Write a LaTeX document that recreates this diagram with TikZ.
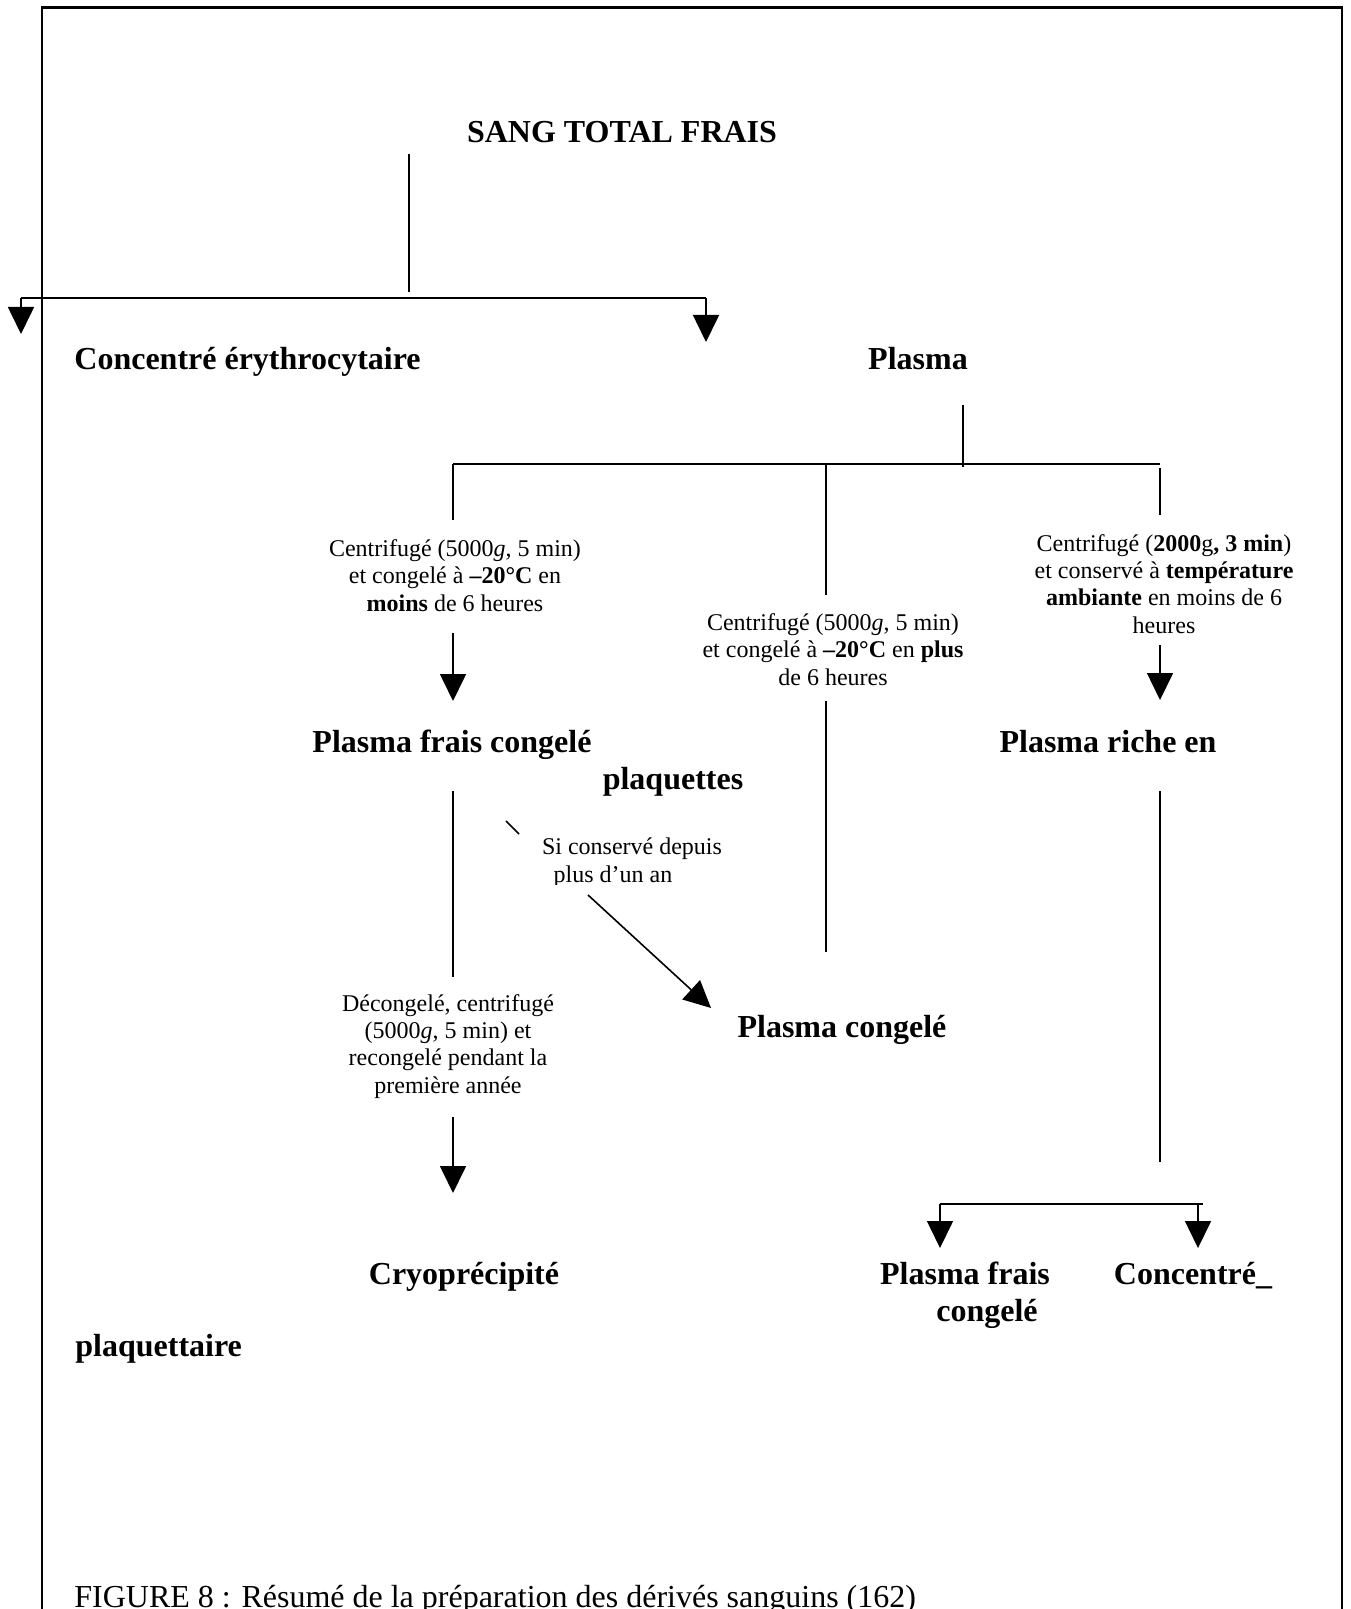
\documentclass[tikz,border=0pt]{standalone}
\usepackage{fontspec}
\setmainfont{Liberation Serif}
\usetikzlibrary{arrows.meta}

\begin{document}
\begin{tikzpicture}[x=0.5pt,y=-0.5pt,>={Triangle[length=13.5pt,width=13pt]},
    titre/.style={font=\fontsize{16}{18.4}\selectfont\bfseries,inner sep=0pt,anchor=base},
    note/.style={font=\fontsize{12}{13.6}\selectfont,inner sep=0pt,align=center,anchor=base},
    trait/.style={line width=0.8pt}]
    \useasboundingbox (0,0) rectangle (1350,1609);
    \draw[line width=1.5pt] (41,8) -- (1343,8);
    \draw[line width=1pt] (42,8) -- (42,1630) (1342,8) -- (1342,1630);

    \node[titre] (sang) at (622,143) {SANG TOTAL FRAIS};
    \node[titre,anchor=base west] (ce) at (74,370) {Concentré érythrocytaire};
    \node[titre] (plasma) at (918,370) {Plasma};
    \node[note] (tpfc) at (455,611) {Centrifugé (5000\textit{g}, 5 min)\\et congelé à \textbf{–20°C} en\\\textbf{moins} de 6 heures};
    \node[note] (tpc) at (833,685) {Centrifugé (5000\textit{g}, 5 min)\\et congelé à \textbf{–20°C} en \textbf{plus}\\de 6 heures};
    \node[note] (tprp) at (1164,633) {Centrifugé (\textbf{2000}g\textbf{, 3 min})\\et conservé à \textbf{température}\\\textbf{ambiante} en moins de 6\\heures};
    \node[titre] (pfc) at (452,752) {Plasma frais congelé};
    \node[titre] (prp) at (1108,752) {Plasma riche en};
    \node[titre] (plaq) at (673,789) {plaquettes};
    \begin{scope}
        \clip (520,825) rectangle (760,884);
        \node[note] (tsi) at (632,882) {Si conservé depuis\\plus d’un an\hspace*{19pt}};
    \end{scope}
    \node[note] (tcryo) at (448,1093) {Décongelé, centrifugé\\(5000\textit{g}, 5 min) et\\recongelé pendant la\\première année};
    \node[titre] (pc) at (842,1037) {Plasma congelé};
    \node[titre] (cryo) at (464,1284) {Cryoprécipité};
    \node[titre,align=center] (pfc2) at (965,1321) {Plasma frais\\\hspace*{22pt}congelé};
    \node[titre] (cp) at (1193,1284) {Concentré\_};
    \node[titre,anchor=base west] (cpl) at (75,1356) {plaquettaire};
    \node[font=\fontsize{16}{18.4}\selectfont,inner sep=0pt,anchor=base west] (fig) at (74,1607) {FIGURE 8 : Résumé de la préparation des dérivés sanguins (162)};

    \coordinate (a1) at (409,154);
    \coordinate (a2) at (409,292);
    \coordinate (b1) at (21,298);
    \coordinate (b2) at (706,298);
    \coordinate (b3) at (21,334);
    \coordinate (b4) at (706,342);
    \coordinate (c1) at (963,405);
    \coordinate (c2) at (963,467);
    \coordinate (d1) at (453,464);
    \coordinate (d2) at (1160,464);
    \coordinate (d3) at (453,520);
    \coordinate (m0) at (826,464);
    \coordinate (m1) at (826,595);
    \coordinate (m2) at (826,701);
    \coordinate (m3) at (826,952);
    \coordinate (r1) at (1160,468);
    \coordinate (r2) at (1160,515);
    \coordinate (e1) at (453,633);
    \coordinate (e2) at (453,701);
    \coordinate (f1) at (1160,645);
    \coordinate (f2) at (1160,700);
    \coordinate (g1) at (453,791);
    \coordinate (g2) at (453,977);
    \coordinate (k1) at (506,821);
    \coordinate (k2) at (519,834);
    \coordinate (k3) at (588,895);
    \coordinate (k4) at (711,1008);
    \coordinate (n1) at (453,1117);
    \coordinate (n2) at (453,1193);
    \coordinate (q1) at (1160,791);
    \coordinate (q2) at (1160,1162);
    \coordinate (t1) at (940,1204);
    \coordinate (t2) at (1203,1204);
    \coordinate (t3) at (940,1248);
    \coordinate (t4) at (1198,1204);
    \coordinate (t5) at (1198,1248);

    \draw[trait] (a1) -- (a2);
    \draw[line width=1.4pt] (b1) -- (b2);
    \draw[trait,->] (b1) -- (b3);
    \draw[trait,->] (b2) -- (b4);
    \draw[trait] (c1) -- (c2);
    \draw[line width=1pt] (d1) -- (d2);
    \draw[trait] (d1) -- (d3);
    \draw[trait] (m0) -- (m1);
    \draw[trait] (m2) -- (m3);
    \draw[line width=1.4pt] (r1) -- (r2);
    \draw[trait,->] (e1) -- (e2);
    \draw[trait,->] (f1) -- (f2);
    \draw[trait] (g1) -- (g2);
    \draw[trait] (k1) -- (k2);
    \draw[trait,->] (k3) -- (k4);
    \draw[trait,->] (n1) -- (n2);
    \draw[trait] (q1) -- (q2);
    \draw[trait] (t1) -- (t2);
    \draw[trait,->] (t1) -- (t3);
    \draw[trait,->] (t4) -- (t5);
\end{tikzpicture}
\end{document}
